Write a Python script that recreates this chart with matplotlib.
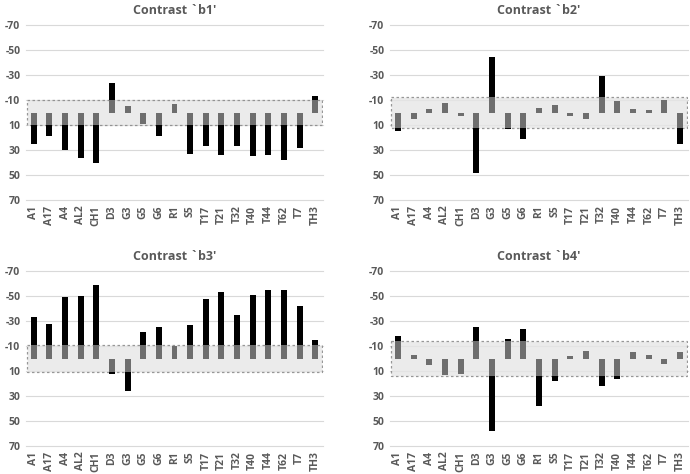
import matplotlib
matplotlib.use("Agg")
import matplotlib.pyplot as plt
import numpy as np
from matplotlib.patches import Rectangle

categories = ["A1", "A17", "A4", "AL2", "CH1", "D3", "G3", "G5", "G6", "R1",
              "S5", "T17", "T21", "T32", "T40", "T44", "T62", "T7", "TH3"]

b1 = [25, 19, 30, 36, 40, -24, -5, 9, 19, -7, 33, 27, 34, 27, 35, 34, 38, 28, -13]
b2 = [15, 5, -3, -8, 3, 48, -44, 13, 21, -4, -6, 3, 5, -29, -9, -3, -2, -10, 25]
b3 = [-33, -28, -49, -50, -59, 12, 26, -21, -25, -10, -27, -48, -53, -35, -51, -55, -55, -42, -15]
b4 = [-18, -3, 5, 13, 12, -25, 58, -16, -24, 38, 18, -2, -6, 22, 16, -5, -3, 4, -5]

titles = ["Contrast `b1'", "Contrast `b2'", "Contrast `b3'", "Contrast `b4'"]
series = [b1, b2, b3, b4]
thresholds = [10.3, 12.5, 10.6, 14.0]
yticks = [-70, -50, -30, -10, 10, 30, 50, 70]

plt.rcParams['font.family'] = ['Open Sans', 'DejaVu Sans']
TXT = '#595959'

fig = plt.figure(figsize=(6.9, 4.74), dpi=100)
W, H = 690, 474
boxes = [(26, 25, 323, 200), (390, 25, 688, 200), (26, 271, 323, 446), (390, 271, 688, 446)]

for (x0, y0, x1, y1), title, vals, t in zip(boxes, titles, series, thresholds):
    ax = fig.add_axes([x0 / W, 1 - y1 / H, (x1 - x0) / W, (y1 - y0) / H])
    x = np.arange(len(categories))
    v = np.array(vals, dtype=float)
    gray = np.clip(v, -t, t)
    black = v - gray
    ax.set_xlim(-0.5, len(categories) - 0.5)
    ax.set_ylim(70, -70)
    for yt in yticks:
        ax.axhline(yt, color='#d9d9d9', lw=0.8, zorder=0, clip_on=False)
    ax.add_patch(Rectangle((-0.45, -t), len(categories) - 0.1, 2 * t,
                           facecolor='#e6e6e6', alpha=0.8, edgecolor='#808080',
                           linestyle=(0, (2, 2)), lw=0.9, zorder=1))
    ax.bar(x, gray, width=0.38, color='#6e6e6e', zorder=2)
    ax.bar(x, black, bottom=gray, width=0.38, color='#000000', zorder=2)
    ax.set_yticks(yticks)
    ax.set_yticklabels([str(y) for y in yticks])
    ax.set_xticks(x)
    ax.set_xticklabels(categories, rotation=90)
    ax.tick_params(axis='both', length=0, labelsize=7.5, labelcolor=TXT, pad=4)
    for lbl in ax.get_xticklabels() + ax.get_yticklabels():
        lbl.set_fontweight('bold')
    for s in ax.spines.values():
        s.set_visible(False)
    ax.set_title(title, fontsize=9, fontweight='bold', color=TXT, pad=8)

fig.savefig("out.png", dpi=100)
